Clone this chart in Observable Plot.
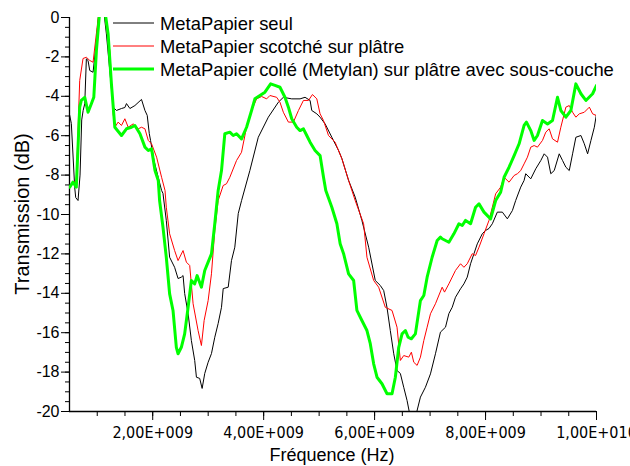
<!DOCTYPE html>
<html><head><meta charset="utf-8">
<script src="https://cdn.jsdelivr.net/npm/d3@7"></script>
<script src="https://cdn.jsdelivr.net/npm/@observablehq/plot@0.6"></script>
<style>
body{margin:0;background:#fff;}
#chart{position:relative;width:630px;height:466px;}
#chart svg{font-family:"Liberation Sans",Arial,sans-serif;}
g[aria-label="x-axis tick label"] text{font-family:"Liberation Sans Narrow","Arial Narrow","DejaVu Sans Condensed",sans-serif;}
</style></head><body><div id="chart"></div>
<script>
const seriesNames = ["MetaPapier seul","MetaPapier scotché sur plâtre","MetaPapier collé (Metylan) sur plâtre avec sous-couche"];
const seriesColors = ["#000000","#ff0000","#00ff00"];
const seriesWidths = [1,1,3];
const xLabel = "Fréquence (Hz)";
const yLabel = "Transmission (dB)";
const xMajorTicks = [2e9,4e9,6e9,8e9,1e10];
const yMajorTicks = [-20,-18,-16,-14,-12,-10,-8,-6,-4,-2,0];

// frequencies in GHz, transmission in dB
const seulGHz = [0.504,0.533,0.594,0.612,0.654,0.69,0.72,0.746,0.775,0.804,0.834,0.865,0.925,0.967,1.07,1.165,1.287,1.346,1.437,1.498,1.527,1.589,1.679,1.798,1.860,1.901,1.938,1.961,2.023,2.100,2.160,2.185,2.245,2.305,2.395,2.457,2.516,2.547,2.576,2.638,2.697,2.757,2.788,2.847,2.891,2.938,2.999,3.059,3.119,3.180,3.240,3.271,3.361,3.420,3.480,3.542,3.602,3.751,3.903,4.084,4.265,4.355,4.506,4.656,4.746,4.837,4.867,4.958,5.017,5.108,5.229,5.350,5.410,5.531,5.650,5.771,5.893,6.012,6.102,6.164,6.223,6.283,6.345,6.404,6.464,6.525,6.585,6.645,6.735,6.826,6.916,7.007,7.097,7.187,7.278,7.339,7.399,7.458,7.549,7.610,7.670,7.730,7.791,7.851,7.941,8.001,8.062,8.122,8.212,8.303,8.393,8.484,8.543,8.634,8.695,8.724,8.815,8.905,8.996,9.057,9.117,9.176,9.238,9.328,9.388,9.448,9.509,9.569,9.628,9.719,9.780,9.840,9.900,9.961,10.0];
const seulDb = [-4.97,-5.38,-8.63,-9.14,-9.29,-8.0,-5.2,-4.72,-4.38,-2.10,-2.18,-2.69,-2.78,-1.68,1.5,-0.83,-4.55,-4.72,-4.62,-4.57,-4.37,-4.62,-4.47,-4.16,-4.72,-4.97,-5.89,-6.24,-7.26,-8.12,-8.78,-8.93,-10.30,-12.17,-12.68,-13.25,-13.18,-13.10,-14.01,-15.03,-16.40,-17.41,-18.26,-18.32,-18.83,-18.07,-17.50,-17.06,-16.23,-15.53,-14.71,-13.76,-13.69,-12.34,-11.66,-9.95,-9.29,-7.77,-6.08,-5.06,-4.30,-4.05,-4.13,-4.13,-4.05,-4.21,-4.72,-4.89,-5.06,-5.40,-6.08,-6.75,-7.16,-8.27,-9.12,-10.30,-11.66,-13.35,-13.60,-13.86,-14.71,-15.89,-17.07,-17.92,-18.07,-18.77,-19.44,-20.3,-20.3,-19.27,-18.77,-18.09,-17.07,-15.97,-15.72,-15.03,-14.71,-14.20,-13.77,-13.52,-13.18,-12.50,-11.99,-11.49,-10.98,-10.81,-10.71,-10.47,-9.88,-9.88,-10.22,-9.80,-9.29,-8.61,-8.27,-7.93,-8.19,-7.68,-7.26,-6.92,-7.09,-7.93,-7.77,-6.92,-7.26,-7.60,-7.77,-6.92,-6.08,-5.99,-6.41,-6.92,-6.24,-5.57,-4.89];

const scotchGHz = [0.50,0.623,0.684,0.744,0.804,0.865,0.925,0.985,1.08,1.19,1.227,1.287,1.317,1.377,1.437,1.498,1.558,1.648,1.739,1.798,1.860,1.920,1.979,2.070,2.160,2.222,2.245,2.305,2.395,2.457,2.547,2.607,2.667,2.728,2.818,2.878,2.927,2.999,3.059,3.119,3.180,3.270,3.330,3.390,3.511,3.601,3.692,3.782,3.873,3.963,4.054,4.113,4.234,4.294,4.355,4.446,4.536,4.627,4.717,4.808,4.880,4.958,5.017,5.079,5.169,5.288,5.410,5.531,5.650,5.802,5.862,5.983,6.073,6.193,6.314,6.404,6.464,6.525,6.616,6.663,6.706,6.766,6.826,6.887,6.947,7.007,7.097,7.218,7.260,7.339,7.458,7.549,7.610,7.670,7.760,7.820,7.882,7.972,8.062,8.122,8.182,8.272,8.334,8.424,8.515,8.574,8.634,8.695,8.755,8.815,8.876,8.936,9.026,9.086,9.147,9.207,9.297,9.357,9.448,9.509,9.569,9.628,9.690,9.780,9.871,9.930,9.990];
const scotchDb = [-8.53,-8.27,-3.20,-2.08,-2.02,-2.18,-2.27,-0.81,1.5,-1.0,-1.68,-4.89,-5.57,-5.31,-5.48,-5.14,-5.57,-5.40,-5.65,-5.57,-5.65,-6.24,-6.41,-7.09,-8.11,-8.78,-9.63,-10.98,-11.83,-12.34,-11.83,-12.42,-12.59,-14.53,-15.89,-16.65,-15.38,-14.37,-13.01,-10.81,-9.29,-8.53,-8.44,-8.11,-7.26,-6.84,-5.57,-4.72,-4.13,-4.01,-4.13,-3.96,-4.05,-4.30,-4.81,-5.31,-5.31,-4.72,-4.21,-4.21,-3.91,-4.13,-4.89,-5.23,-5.99,-6.33,-7.17,-8.27,-9.29,-10.47,-12.17,-13.35,-13.69,-14.71,-14.87,-15.72,-17.41,-17.16,-17.24,-16.99,-17.50,-17.66,-17.24,-16.40,-15.72,-15.04,-14.53,-13.69,-13.94,-13.52,-12.84,-12.50,-12.68,-12.50,-11.99,-12.08,-11.66,-10.98,-10.30,-9.63,-8.95,-8.61,-8.11,-8.36,-8.02,-7.93,-7.77,-7.43,-7.09,-6.58,-6.50,-6.58,-6.24,-5.82,-5.65,-6.16,-6.33,-5.57,-4.55,-4.47,-4.81,-5.06,-4.89,-4.81,-4.55,-4.89,-4.97];

const colleGHz = [0.504,0.563,0.623,0.684,0.713,0.775,0.834,0.894,0.938,0.985,1.08,1.196,1.256,1.317,1.437,1.527,1.618,1.679,1.770,1.860,1.920,1.979,2.041,2.100,2.124,2.185,2.245,2.305,2.366,2.426,2.457,2.516,2.576,2.638,2.697,2.757,2.800,2.878,2.938,2.999,3.059,3.119,3.180,3.240,3.300,3.390,3.451,3.511,3.601,3.692,3.782,3.842,3.933,4.023,4.126,4.204,4.294,4.384,4.446,4.506,4.596,4.656,4.717,4.777,4.837,4.927,5.017,5.079,5.120,5.229,5.320,5.379,5.441,5.531,5.622,5.681,5.771,5.862,5.922,5.983,6.043,6.133,6.224,6.314,6.374,6.435,6.495,6.555,6.604,6.663,6.735,6.826,6.887,6.947,7.037,7.128,7.187,7.218,7.339,7.429,7.520,7.580,7.640,7.730,7.820,7.882,7.972,8.091,8.182,8.272,8.334,8.424,8.515,8.605,8.695,8.737,8.815,8.876,8.936,9.026,9.117,9.207,9.297,9.357,9.448,9.538,9.628,9.719,9.809,9.930,10.0];
const colleDb = [-8.61,-8.36,-8.61,-4.55,-4.21,-4.05,-4.81,-4.38,-4.05,-1.68,1.5,-0.83,-3.38,-5.57,-5.99,-5.65,-5.57,-5.48,-5.90,-6.58,-6.75,-6.66,-7.77,-8.27,-9.29,-10.64,-12.17,-14.03,-14.87,-16.74,-17.07,-16.74,-16.06,-14.71,-13.35,-13.52,-13.10,-13.69,-12.84,-12.42,-12.00,-10.47,-8.78,-7.77,-5.90,-5.82,-5.99,-5.90,-6.16,-5.57,-4.72,-4.13,-3.96,-3.79,-3.37,-3.45,-3.54,-4.05,-4.55,-5.14,-5.57,-5.74,-5.65,-5.99,-6.33,-6.75,-7.01,-8.11,-8.78,-9.63,-10.47,-11.49,-11.99,-13.01,-13.35,-14.87,-15.38,-15.89,-16.56,-17.58,-18.26,-18.59,-19.10,-19.10,-18.26,-16.74,-16.06,-15.89,-16.23,-16.31,-16.06,-14.37,-14.11,-13.18,-12.17,-11.32,-11.15,-11.23,-11.41,-10.98,-10.47,-10.56,-10.30,-10.47,-9.63,-9.46,-9.88,-10.22,-9.29,-8.87,-8.11,-7.60,-7.01,-6.41,-5.48,-5.31,-5.74,-6.24,-5.99,-5.23,-5.40,-5.23,-4.05,-4.72,-5.06,-4.72,-3.37,-3.87,-4.21,-3.87,-3.45];

const toRows = (ghz, db) => ghz.map((g, i) => ({f: g * 1e9, db: db[i]}));
const seriesRows = [toRows(seulGHz, seulDb), toRows(scotchGHz, scotchDb), toRows(colleGHz, colleDb)];

function sci(d) {
  const e = Math.floor(Math.log10(d) + 1e-9);
  const m = d / Math.pow(10, e);
  return m.toFixed(2).replace(".", ",") + "E+" + String(e).padStart(3, "0");
}

const xMinor = d3.range(1e9, 1.0001e10, 0.5e9);
const yMinor = d3.range(-20, 0.001, 0.5);

const plot = Plot.plot({
  width: 630, height: 466,
  marginLeft: 69, marginRight: 34, marginTop: 17, marginBottom: 55,
  style: {background: "white", color: "black"},
  x: {domain: [0.5e9, 1e10]},
  y: {domain: [-20, 0]},
  marks: [
    Plot.axisY(yMinor, {tickSize: 4, tickFormat: () => "", label: null, strokeWidth: 1}),
    Plot.axisY(yMajorTicks, {tickSize: 8, tickPadding: 2, tickFormat: d => String(d), fontSize: 16, label: null, strokeWidth: 1}),
    Plot.axisX(xMinor, {tickSize: 5, tickFormat: () => "", label: null, strokeWidth: 1}),
    Plot.axisX(xMajorTicks, {tickSize: 9, tickPadding: 6, tickFormat: sci, fontSize: 16, label: null, strokeWidth: 1}),
    Plot.ruleX([0.5e9], {stroke: "black", strokeWidth: 1.3}),
    Plot.ruleY([-20], {stroke: "black", strokeWidth: 1.3}),
    ...seriesRows.map((rows, i) => Plot.line(rows, {x: "f", y: "db", stroke: seriesColors[i], strokeWidth: seriesWidths[i], clip: true, curve: "linear"}))
  ]
});

const svg = d3.select(plot);
// axis titles
svg.append("text").attr("x", 332).attr("y", 461).attr("text-anchor", "middle")
  .attr("font-size", 18).attr("fill", "black").text(xLabel);
svg.append("text").attr("transform", "translate(29,214) rotate(-90)").attr("text-anchor", "middle")
  .attr("font-size", 20).attr("fill", "black").text(yLabel);
// legend
const lg = svg.append("g").attr("text-anchor", "start");
seriesNames.forEach((name, i) => {
  const y = 23 + i * 23;
  lg.append("line").attr("x1", 113).attr("x2", 154).attr("y1", y).attr("y2", y)
    .attr("stroke", seriesColors[i]).attr("stroke-width", seriesWidths[i]);
  lg.append("text").attr("x", 160).attr("y", y + 6.5).attr("text-anchor", "start")
    .attr("font-size", 18.4).attr("fill", "black").text(name);
});
document.getElementById("chart").appendChild(plot);
</script>
</body></html>
